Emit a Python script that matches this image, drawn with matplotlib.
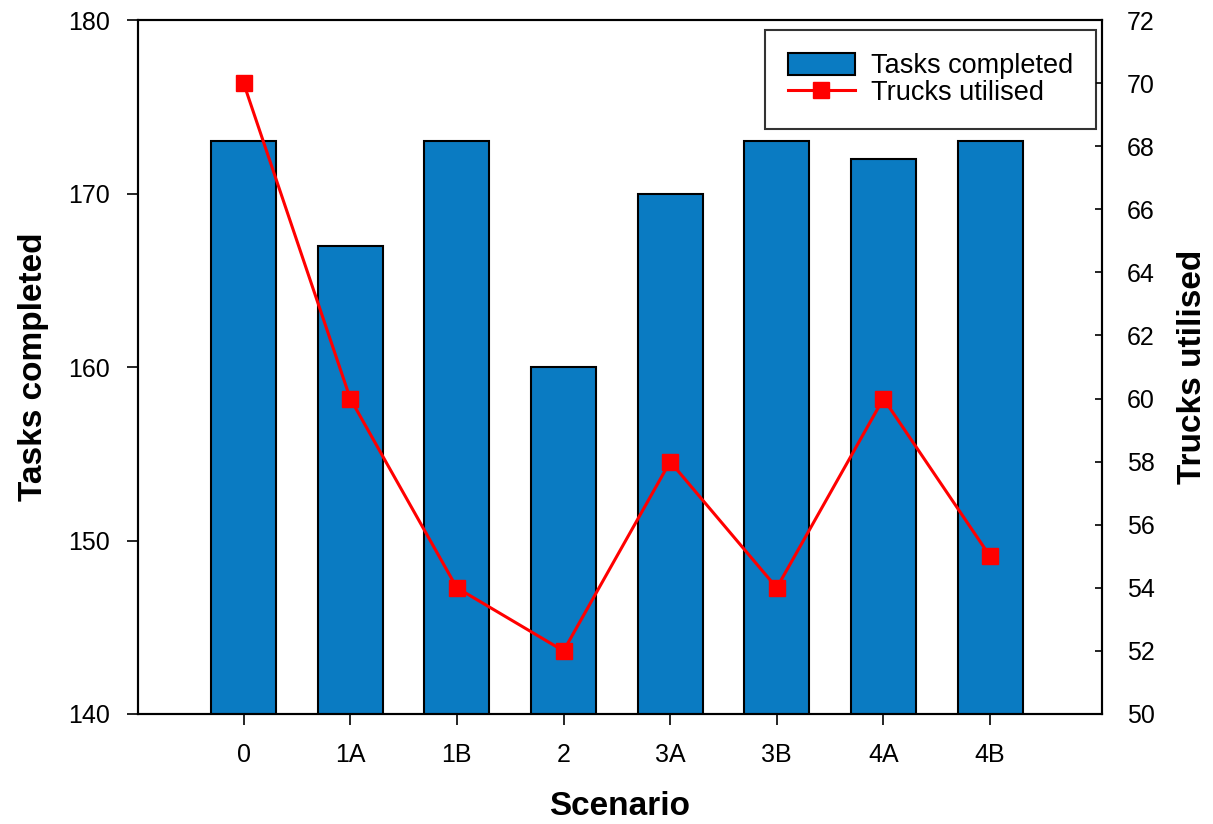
import matplotlib
matplotlib.use("Agg")
from matplotlib import pyplot as plt
import numpy as np

scenarios = ["0", "1A", "1B", "2", "3A", "3B", "4A", "4B"]
tasks_completed = [173, 167, 173, 160, 170, 173, 172, 173]
trucks_utilised = [70, 60, 54, 52, 58, 54, 60, 55]

plt.rcParams['font.family'] = ['Liberation Sans', 'DejaVu Sans']

fig = plt.figure(figsize=(12.13, 8.24), dpi=100)
ax = fig.add_axes([0.1138, 0.1335, 0.7947, 0.8422])
x = np.arange(len(scenarios))

bars = ax.bar(x, tasks_completed, width=0.61, color='#0a7bc2', edgecolor='black',
              linewidth=1.5, label='Tasks completed', zorder=2)
ax.set_ylim(140, 180)
ax.set_xlim(-0.99, 8.05)
ax.set_yticks(np.arange(140, 181, 10))
ax.set_xticks(x)
ax.set_xticklabels(scenarios)
ax.tick_params(axis='y', direction='out', length=8, width=1.2, labelsize=18, pad=12)
ax.tick_params(axis='x', direction='out', length=8, width=1.2, labelsize=18, pad=13)
ax.set_ylabel("Tasks completed", fontsize=24, fontweight='bold', labelpad=14)
ax.set_xlabel("Scenario", fontsize=24, fontweight='bold', labelpad=17)
for s in ax.spines.values():
    s.set_linewidth(1.5)

ax2 = ax.twinx()
line, = ax2.plot(x, trucks_utilised, color='#ff0000', linewidth=2.2, marker='s',
                 markersize=12, label='Trucks utilised', zorder=3)
ax2.set_ylim(50, 72)
ax2.set_yticks(np.arange(50, 73, 2))
ax2.tick_params(axis='y', direction='in', length=5, width=1.2, labelsize=18, pad=18)
ax2.set_ylabel("Trucks utilised", fontsize=24, fontweight='bold', labelpad=16)
for s in ax2.spines.values():
    s.set_linewidth(1.5)

leg = ax2.legend([bars, line], ["Tasks completed", "Trucks utilised"], loc='upper right',
                 bbox_to_anchor=(0.9938, 0.9856), fontsize=19.5, frameon=True, fancybox=False,
                 handlelength=2.45, handleheight=0.85, borderpad=0.85, labelspacing=0.02,
                 handletextpad=0.6, borderaxespad=0)
leg.get_frame().set_edgecolor('black')
leg.get_frame().set_linewidth(1.5)

fig.savefig("out.png", dpi=100)
